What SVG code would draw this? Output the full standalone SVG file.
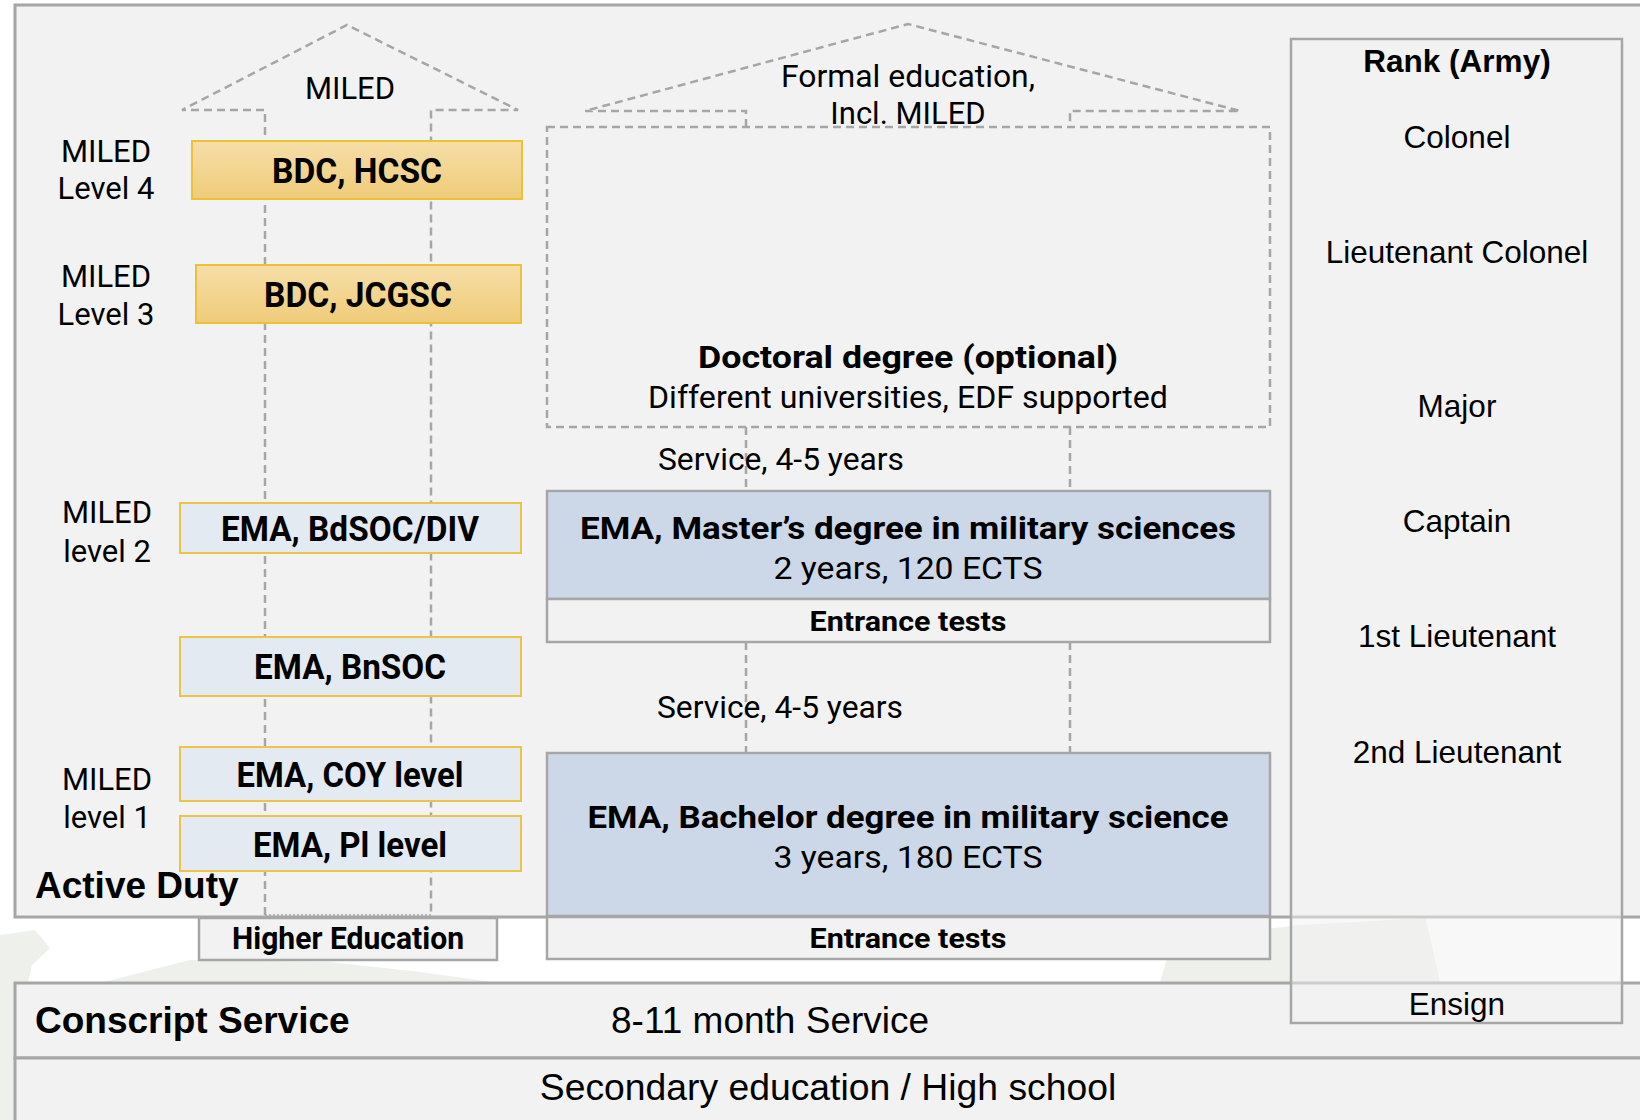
<svg xmlns="http://www.w3.org/2000/svg" width="1640" height="1120" viewBox="0 0 1640 1120">
<defs>
<linearGradient id="gold" x1="0" y1="0" x2="0" y2="1">
<stop offset="0" stop-color="#f6dea8"/>
<stop offset="1" stop-color="#efcc78"/>
</linearGradient>
</defs>
<style>
.band{fill:#f2f2f2;stroke:#a6a6a6;stroke-width:3}
.gold{fill:url(#gold);stroke:#ebc237;stroke-width:2}
.lite{fill:#e4eaf2;stroke:#ebc547;stroke-width:2}
.blue{fill:#ccd8e8;stroke:#a6a6a6;stroke-width:2.5}
.ent{fill:#f2f2f2;stroke:#a6a6a6;stroke-width:2.5}
.dash{fill:none;stroke:#a6a6a6;stroke-width:2.5;stroke-dasharray:8 5}
.dot{fill:none;stroke:#a6a6a6;stroke-width:1.5;stroke-dasharray:2 2}
.reg{font-family:Roboto,"Liberation Sans",sans-serif;font-size:31px;fill:#000}
.lbl{font-family:Roboto,"Liberation Sans",sans-serif;font-size:31px;fill:#000;text-anchor:middle}
.bc{font-family:Roboto,"Liberation Sans",sans-serif;font-weight:700;fill:#000;text-anchor:middle}
.ar{font-family:"Liberation Sans",Arial,sans-serif;fill:#000}
.rk{font-family:"Liberation Sans",Arial,sans-serif;font-size:31.5px;fill:#000;text-anchor:middle}
</style>
<rect x="0" y="0" width="1640" height="1120" fill="#ffffff"/>
<g id="map" fill="#eef0eb">
<path d="M0,935 L35,930 L50,948 L32,965 L28,983 L100,983 L190,960 L330,962 L420,972 L500,983 L0,983 Z"/>
<path d="M0,983 L14,983 L14,1120 L0,1120 Z"/>
<path d="M1160,983 L1172,940 L1300,925 L1425,918 L1432,945 L1440,983 Z"/>
</g>
<g id="active-duty">
<rect class="band" x="15" y="5" width="1640" height="912"/>
<text class="ar" x="35" y="898" font-size="37" font-weight="700">Active Duty</text>
</g>
<g id="conscript">
<rect class="band" x="15" y="983" width="1640" height="75"/>
<text class="ar" x="35" y="1033" font-size="37" font-weight="700">Conscript Service</text>
<text class="ar" x="611" y="1033" font-size="37">8-11 month Service</text>
</g>
<g id="secondary">
<rect class="band" x="15" y="1058" width="1640" height="80"/>
<text class="ar" x="828" y="1100" font-size="37.3" text-anchor="middle">Secondary education / High school</text>
</g>
<g id="connectors">
<path class="dash" d="M265,915 L265,110 L182,110 L347,25 L518,110 L431,110 L431,915"/>
<path class="dot" d="M265,915 L431,915"/>
<path class="dash" d="M746,127 L746,111 L585,111 L908,24 L1240,111 L1070,111 L1070,127"/>
<path class="dash" d="M746,427 L746,491 M1070,427 L1070,491"/>
<path class="dash" d="M746,642 L746,753 M1070,642 L1070,753"/>
</g>
<g id="miled-roof">
<text class="lbl" x="350" y="99">MILED</text>
</g>
<g id="formal-roof">
<text class="lbl" x="908" y="87" textLength="254" lengthAdjust="spacingAndGlyphs">Formal education,</text>
<text class="lbl" x="908" y="124">Incl. MILED</text>
</g>
<g id="level-labels">
<text class="lbl" x="106" y="162">MILED</text>
<text class="lbl" x="106" y="199">Level 4</text>
<text class="lbl" x="106" y="287">MILED</text>
<text class="lbl" x="106" y="325">Level 3</text>
<text class="lbl" x="107" y="523">MILED</text>
<text class="lbl" x="107" y="562">level 2</text>
<text class="lbl" x="107" y="790">MILED</text>
<text class="lbl" x="107" y="828">level 1</text>
</g>
<g id="bdc-hcsc">
<rect class="gold" x="192" y="141" width="330" height="58"/>
<text class="bc" x="357" y="183" font-size="35" textLength="170" lengthAdjust="spacingAndGlyphs">BDC, HCSC</text>
</g>
<g id="bdc-jcgsc">
<rect class="gold" x="196" y="265" width="325" height="58"/>
<text class="bc" x="358" y="307" font-size="35" textLength="188" lengthAdjust="spacingAndGlyphs">BDC, JCGSC</text>
</g>
<g id="ema-bdsoc">
<rect class="lite" x="180" y="503" width="341" height="50"/>
<text class="bc" x="350" y="541" font-size="35" textLength="258" lengthAdjust="spacingAndGlyphs">EMA, BdSOC/DIV</text>
</g>
<g id="ema-bnsoc">
<rect class="lite" x="180" y="637" width="341" height="59"/>
<text class="bc" x="350" y="679" font-size="35" textLength="192" lengthAdjust="spacingAndGlyphs">EMA, BnSOC</text>
</g>
<g id="ema-coy">
<rect class="lite" x="180" y="747" width="341" height="54"/>
<text class="bc" x="350" y="787" font-size="35" textLength="227" lengthAdjust="spacingAndGlyphs">EMA, COY level</text>
</g>
<g id="ema-pl">
<rect class="lite" x="180" y="816" width="341" height="55"/>
<text class="bc" x="350" y="857" font-size="35" textLength="194" lengthAdjust="spacingAndGlyphs">EMA, Pl level</text>
</g>
<g id="higher-education">
<rect class="ent" x="199" y="918" width="298" height="42"/>
<text class="bc" x="348" y="949" font-size="32" textLength="232" lengthAdjust="spacingAndGlyphs">Higher Education</text>
</g>
<g id="doctoral">
<rect class="dash" x="547" y="127" width="723" height="300"/>
<text class="bc" x="908" y="368" font-size="31" textLength="420" lengthAdjust="spacingAndGlyphs">Doctoral degree (optional)</text>
<text class="lbl" x="908" y="408" textLength="520" lengthAdjust="spacingAndGlyphs">Different universities, EDF supported</text>
</g>
<g id="service-1">
<text class="reg" x="658" y="470" textLength="246" lengthAdjust="spacingAndGlyphs">Service, 4-5 years</text>
</g>
<g id="master">
<rect class="blue" x="547" y="491" width="723" height="108"/>
<text class="bc" x="908" y="539" font-size="31.5" textLength="656" lengthAdjust="spacingAndGlyphs">EMA, Master’s degree in military sciences</text>
<text class="lbl" x="908" y="579" textLength="269" lengthAdjust="spacingAndGlyphs">2 years, 120 ECTS</text>
</g>
<g id="entrance-master">
<rect class="ent" x="547" y="599" width="723" height="43"/>
<text class="bc" x="908" y="631" font-size="28" textLength="197" lengthAdjust="spacingAndGlyphs">Entrance tests</text>
</g>
<g id="service-2">
<text class="reg" x="657" y="718" textLength="246" lengthAdjust="spacingAndGlyphs">Service, 4-5 years</text>
</g>
<g id="bachelor">
<rect class="blue" x="547" y="753" width="723" height="163"/>
<text class="bc" x="908" y="828" font-size="31.5" textLength="641" lengthAdjust="spacingAndGlyphs">EMA, Bachelor degree in military science</text>
<text class="lbl" x="908" y="868" textLength="269" lengthAdjust="spacingAndGlyphs">3 years, 180 ECTS</text>
</g>
<g id="entrance-bachelor">
<rect class="ent" x="547" y="917" width="723" height="42"/>
<text class="bc" x="908" y="948" font-size="28" textLength="197" lengthAdjust="spacingAndGlyphs">Entrance tests</text>
</g>
<g id="rank">
<rect x="1291" y="39" width="331" height="984" fill="#f2f2f2" fill-opacity="0.5" stroke="#a6a6a6" stroke-width="2.5"/>
<text class="rk" x="1457" y="72" font-weight="700">Rank (Army)</text>
<text class="rk" x="1457" y="148">Colonel</text>
<text class="rk" x="1457" y="263">Lieutenant Colonel</text>
<text class="rk" x="1457" y="417">Major</text>
<text class="rk" x="1457" y="532">Captain</text>
<text class="rk" x="1457" y="647">1st Lieutenant</text>
<text class="rk" x="1457" y="763">2nd Lieutenant</text>
<text class="rk" x="1457" y="1015">Ensign</text>
</g>
</svg>
